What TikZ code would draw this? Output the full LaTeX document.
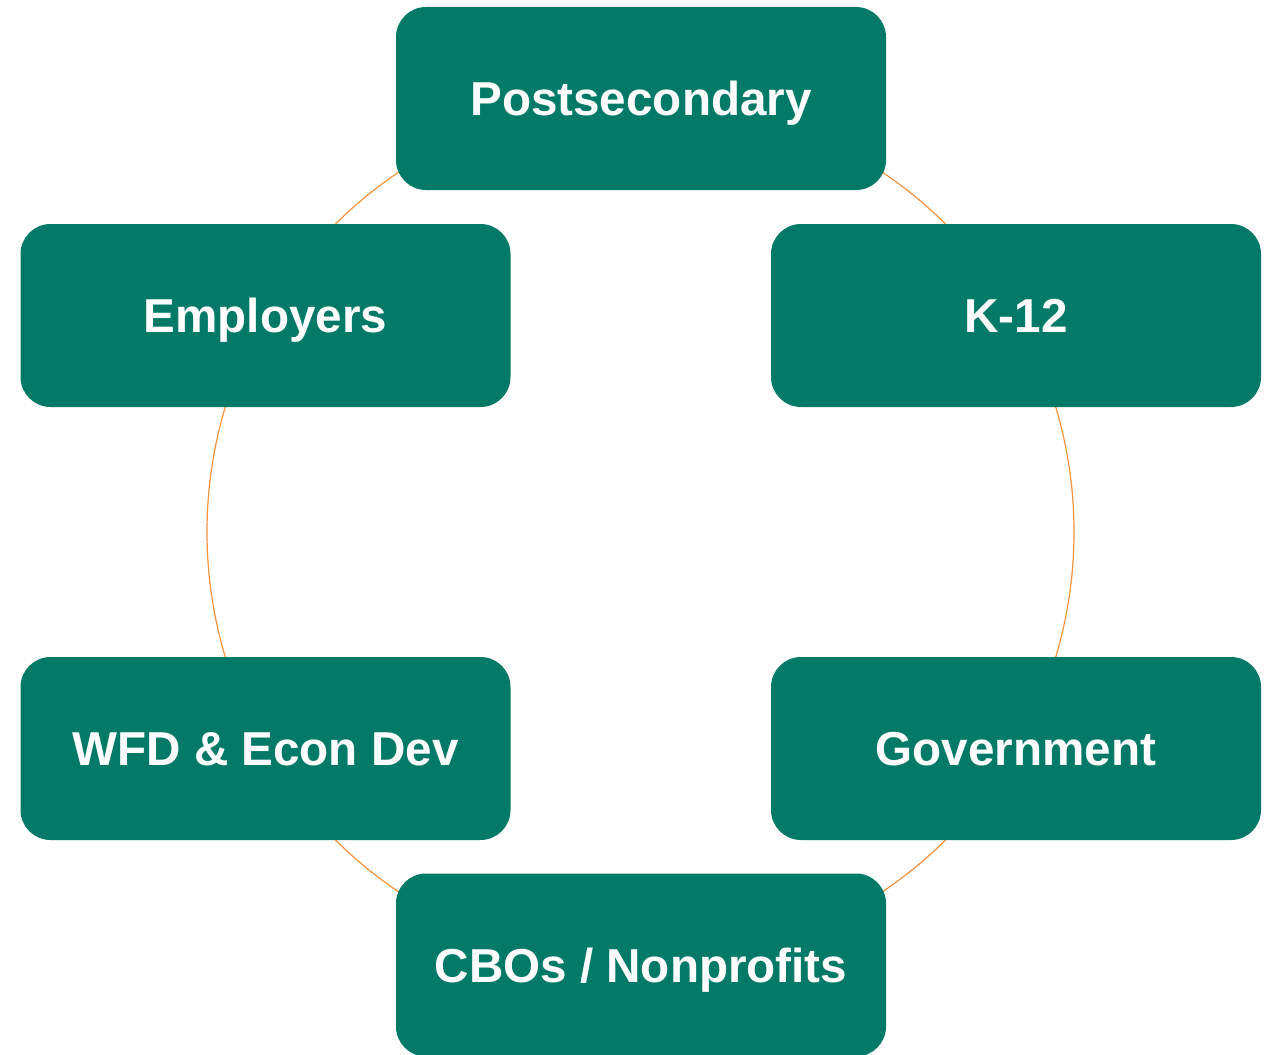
\documentclass[tikz,border=0pt]{standalone}
\usepackage{fontspec}
\setmainfont{Liberation Sans}
\definecolor{boxgreen}{HTML}{037A67}
\definecolor{ringorange}{HTML}{F7923A}
\begin{document}
\begin{tikzpicture}[x=1pt,y=-1pt,
  partner/.style={fill=boxgreen, draw=none, rounded corners=30pt,
    minimum width=490pt, minimum height=183pt, inner sep=0pt},
  partnerlabel/.style={text=white, anchor=base, inner sep=0pt,
    font=\fontsize{47.6}{57}\selectfont\bfseries}]
  \useasboundingbox (0,0) rectangle (1276,1054);
  % ring linking the partners
  \draw[ringorange, line width=1.2pt] (640.5,532) circle[radius=433.5];
  % partner boxes
  \node[partner] (post) at (641,98.5) {};
  \node[partner] (emp)  at (265.5,315.5) {};
  \node[partner] (k12)  at (1016,315.5) {};
  \node[partner] (wfd)  at (265.5,748.5) {};
  \node[partner] (gov)  at (1016,748.5) {};
  \node[partner] (cbo)  at (641,965) {};
  % labels, baseline placed so the capitals sit centred in each box
  \node[partnerlabel] (postl) at ([yshift=-17pt]post.center) {Postsecondary};
  \node[partnerlabel] (empl)  at ([yshift=-17pt]emp.center) {Employers};
  \node[partnerlabel] (k12l)  at ([yshift=-17pt]k12.center) {K-12};
  \node[partnerlabel] (wfdl)  at ([yshift=-17pt]wfd.center) {WFD \& Econ Dev};
  \node[partnerlabel] (govl)  at ([yshift=-17pt]gov.center) {Government};
  \node[partnerlabel] (cbol)  at ([yshift=-17pt]cbo.center) {CBOs / Nonprofits};
\end{tikzpicture}
\end{document}
